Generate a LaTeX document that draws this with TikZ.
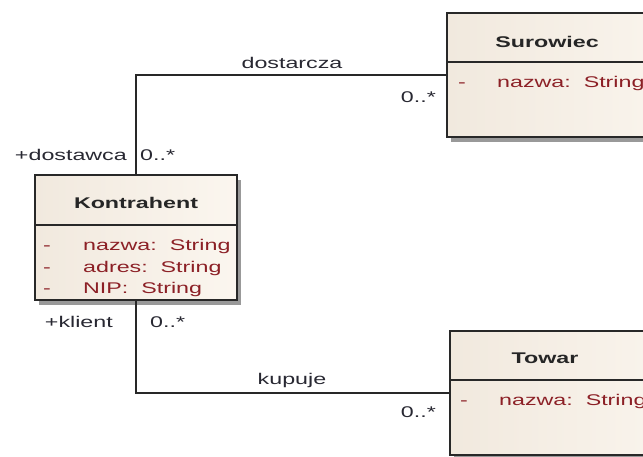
\documentclass[tikz,border=0pt]{standalone}
\usepackage{fontspec}
\newfontfamily\umlfont[FakeStretch=1.5]{Liberation Sans}
\usetikzlibrary{shadows}
\definecolor{attr}{RGB}{140,32,38}
\definecolor{linec}{RGB}{40,40,40}
\definecolor{boxl}{RGB}{241,233,222}
\definecolor{boxr}{RGB}{251,246,239}
\definecolor{txt}{RGB}{40,40,50}
\tikzset{
  classbox/.style={draw=linec, line width=1.6pt, left color=boxl, right color=boxr,
    drop shadow={shadow xshift=4pt, shadow yshift=-5pt, fill=black!40, opacity=1},
    inner sep=0pt},
  divider/.style={draw=linec, line width=1.6pt},
  umltitle/.style={font=\umlfont\fontsize{15.5}{18}\selectfont\bfseries, text=black!85, inner sep=0pt},
  attrtext/.style={font=\umlfont\fontsize{15.5}{18}\selectfont, text=attr, anchor=base west, inner sep=0pt},
  attrmark/.style={font=\umlfont\fontsize{15.5}{18}\selectfont, text=attr, anchor=base, inner sep=0pt},
  lbl/.style={font=\umlfont\fontsize{15.5}{18}\selectfont, text=txt, inner sep=0pt},
  conn/.style={draw=linec, line width=1.4pt}
}
\begin{document}
\begin{tikzpicture}[x=1pt,y=-1pt]
\useasboundingbox (0,0) rectangle (643,456);
\clip (0,0) rectangle (643,456);
\fill[white] (0,0) rectangle (643,456);

% class boxes
\node[classbox, minimum width=202pt, minimum height=125pt] (K) at (136,237.5) {};
\node[classbox, minimum width=253pt, minimum height=124pt] (S) at (573.5,75) {};
\node[classbox, minimum width=253pt, minimum height=124pt] (T) at (576.5,393) {};

% dividers
\draw[divider] (K.west |- 0,225) -- (K.east |- 0,225);
\draw[divider] (S.west |- 0,62) -- (S.east |- 0,62);
\draw[divider] (T.west |- 0,380) -- (T.east |- 0,380);

% Kontrahent
\node[umltitle] (Kt) at (136,203) {Kontrahent};
\node[attrmark] (Km1) at (47,250) {-};
\node[attrtext] (Ka1) at (83,250) {nazwa:\ \ String};
\node[attrmark] (Km2) at (47,272) {-};
\node[attrtext] (Ka2) at (83,272) {adres:\ \ String};
\node[attrmark] (Km3) at (47,293) {-};
\node[attrtext] (Ka3) at (83,293) {NIP:\ \ String};

% Surowiec
\node[umltitle] (St) at (547,42) {Surowiec};
\node[attrmark] (Sm1) at (462,87) {-};
\node[attrtext] (Sa1) at (497,87) {nazwa:\ \ String};

% Towar
\node[umltitle] (Tt) at (545,358) {Towar};
\node[attrmark] (Tm1) at (464,405) {-};
\node[attrtext] (Ta1) at (499,405) {nazwa:\ \ String};

% connectors
\draw[conn] (K.north) |- (S.west);
\draw[conn] (K.south) |- (T.west);

% labels
\node[lbl] (l1) at (292,63) {dostarcza};
\node[lbl, anchor=east] (l2) at (436,97) {0..*};
\node[lbl, anchor=east] (l3) at (127,155) {+dostawca};
\node[lbl, anchor=west] (l4) at (140,155) {0..*};
\node[lbl, anchor=east] (l5) at (113,322) {+klient};
\node[lbl, anchor=west] (l6) at (150,322) {0..*};
\node[lbl] (l7) at (292,380) {kupuje};
\node[lbl, anchor=east] (l8) at (436,412) {0..*};
\end{tikzpicture}
\end{document}
